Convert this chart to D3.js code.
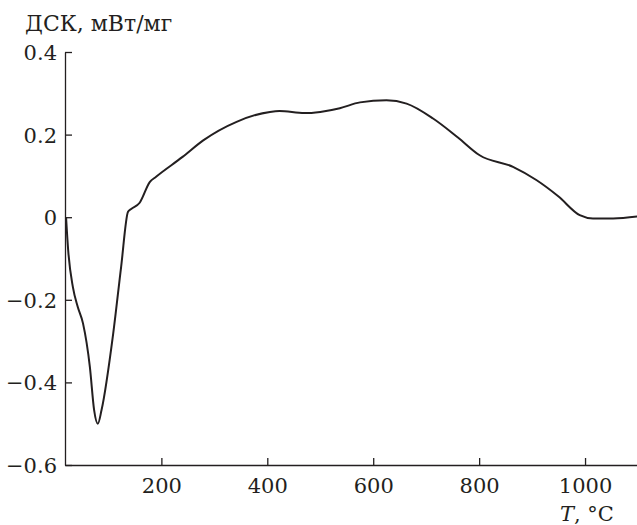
<!doctype html>
<html>
<head>
    <meta charset="utf-8">
    <script src="https://d3js.org/d3.v7.min.js"></script>
</head>
<body style="margin:0;background:#fff">
<script>
    // DSC curve
    var temps = [20, 24, 33, 42, 52, 65, 73, 80, 87, 109, 124, 137, 143, 159, 178, 190,
                 240, 279, 342, 405, 423, 470, 500, 537, 575, 625, 663, 713, 760, 801,
                 864, 908, 950, 990, 1015, 1053, 1100];
    var dsc = [0, -0.08, -0.17, -0.217, -0.257, -0.363, -0.467, -0.5, -0.467, -0.282, -0.12, 0.013, 0.02, 0.035, 0.085, 0.098,
               0.146, 0.186, 0.231, 0.255, 0.257, 0.252, 0.255, 0.264, 0.278, 0.283, 0.275, 0.239, 0.193, 0.150,
               0.122, 0.090, 0.05, 0.005, -0.003, -0.003, 0.002];
    var xTicks = [200, 400, 600, 800, 1000];
    var yTicks = [0.4, 0.2, 0, -0.2, -0.4, -0.6];

    var width = 637, height = 525;
    var font = "'DejaVu Serif', serif";
    var ink = "#231f20";

    var x = d3.scaleLinear().domain([18, 1100]).range([65, 638]);
    var y = d3.scaleLinear().domain([-0.6, 0.4]).range([465, 52]);

    var svg = d3.select("body").append("svg")
        .attr("width", width)
        .attr("height", height);

    var fmt = function (d) {
        if (d === 0) return "0";
        return (d < 0 ? "\u2212" : "") + Math.abs(d).toFixed(1);
    };

    function styleAxis(g) {
        g.attr("font-family", font).attr("font-size", "21px");
        g.selectAll("path, line").attr("stroke", ink).attr("stroke-width", 1.3);
        g.selectAll("text").attr("fill", ink);
    }

    svg.append("g")
        .attr("transform", "translate(65,0)")
        .call(d3.axisLeft(y).tickValues(yTicks).tickSize(-7).tickSizeOuter(0).tickPadding(8).tickFormat(fmt))
        .call(styleAxis)
        .call(function (g) { g.selectAll("text").attr("dy", "0.36em"); });

    svg.append("g")
        .attr("transform", "translate(0,465)")
        .call(d3.axisBottom(x).tickValues(xTicks).tickSize(-7).tickSizeOuter(0).tickPadding(13).tickFormat(d3.format("d")))
        .call(styleAxis);

    // axis titles
    svg.append("text")
        .attr("x", 25)
        .attr("y", 31)
        .attr("font-family", font)
        .attr("font-size", "22px")
        .attr("fill", ink)
        .text("ДСК, мВт/мг");

    var tl = svg.append("text")
        .attr("x", 560)
        .attr("y", 521)
        .attr("font-family", font)
        .attr("font-size", "21px")
        .attr("fill", ink);
    tl.append("tspan").attr("font-style", "italic").text("T");
    tl.append("tspan").text(", °C");

    var line = d3.line()
        .x(function (d, i) { return x(temps[i]); })
        .y(function (d) { return y(d); })
        .curve(d3.curveMonotoneX);

    svg.append("path")
        .datum(dsc)
        .attr("fill", "none")
        .attr("stroke", ink)
        .attr("stroke-width", 2)
        .attr("d", line);
</script>
</body>
</html>
